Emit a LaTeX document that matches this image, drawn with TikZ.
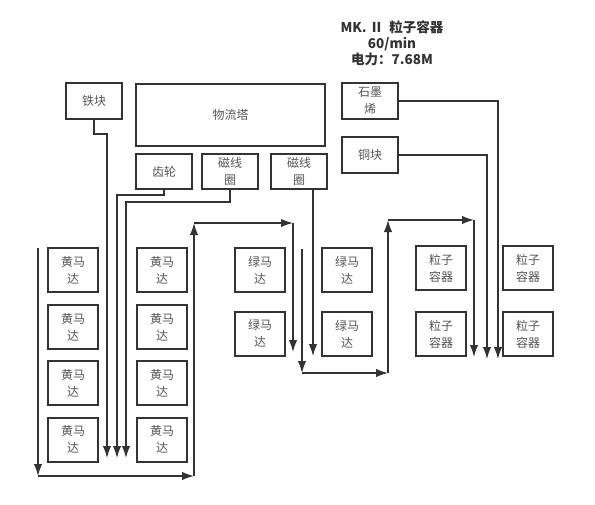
\documentclass[tikz,border=0pt]{standalone}
\usepackage{fontspec}
\newfontfamily\cjk{Noto Sans CJK SC}
\usetikzlibrary{arrows.meta}
\definecolor{boxc}{HTML}{333333}
\definecolor{txtc}{HTML}{555555}
\definecolor{linec}{HTML}{333333}
\tikzset{
  box/.style={draw=boxc, line width=2pt, inner sep=0pt, minimum width=50pt, minimum height=44pt,
    align=center, text=txtc, font=\cjk\fontsize{12}{17}\selectfont},
  feed/.style={draw=linec, line width=1.4pt, -{Latex[length=12pt,width=8.5pt]}},
  titletext/.style={align=center, text=linec, font=\cjk\bfseries\fontsize{13.5}{16}\selectfont}
}
\begin{document}
\begin{tikzpicture}[x=1pt,y=-1pt]
\useasboundingbox[fill=white] (0,0) rectangle (595,504);
% title
\node[titletext] (title) at (392,43) {MK. Ⅱ\ \ 粒子容器\\60/min\\电力：7.68M};
% top boxes
\node[box, minimum width=56pt, minimum height=36pt] (tie) at (94,101) {铁块};
\node[box, minimum width=189pt, minimum height=62pt] (tower) at (230.5,115) {物流塔};
\node[box, minimum width=56pt, minimum height=35pt] (gear) at (164,171.5) {齿轮};
\node[box, minimum width=56pt, minimum height=35pt] (coilA) at (230,171.5) {磁线\\圈};
\node[box, minimum width=56pt, minimum height=35pt] (coilB) at (299,171.5) {磁线\\圈};
\node[box, minimum width=56pt, minimum height=36pt] (graph) at (370,101) {石墨\\烯};
\node[box, minimum width=56pt, minimum height=36pt] (copper) at (370,155) {铜块};
% yellow motors
\foreach \i/\y in {1/270,2/327,3/383,4/439.5}{
  \node[box] (ya\i) at (73,\y) {黄马\\达};
  \node[box] (yb\i) at (162,\y) {黄马\\达};
}
% green motors
\node[box] (ga1) at (260,270) {绿马\\达};
\node[box] (ga2) at (260,333.5) {绿马\\达};
\node[box] (gb1) at (347,270) {绿马\\达};
\node[box] (gb2) at (347,334) {绿马\\达};
% particle containers
\node[box] (pa1) at (441,268) {粒子\\容器};
\node[box] (pa2) at (441,334) {粒子\\容器};
\node[box] (pb1) at (528,268) {粒子\\容器};
\node[box] (pb2) at (528,334) {粒子\\容器};
% supply lines
\coordinate (tieEnd) at (107,458);
\coordinate (gearEnd) at (117,458);
\coordinate (coilAEnd) at (126,458);
\draw[feed] (tie.south) |- (107,134) -- (tieEnd);
\draw[feed] (gear.south) |- (117,195) -- (gearEnd);
\draw[feed] (coilA.south) |- (126,202) -- (coilAEnd);
\coordinate (coilBEnd) at (313,356);
\draw[feed] (coilB.south -| coilBEnd) -- (coilBEnd);
\coordinate (graphEnd) at (498,359);
\coordinate (copperEnd) at (487,359);
\draw[feed] (graph.east) -| (graphEnd);
\draw[feed] (copper.east) -| (copperEnd);
% product flow 1
\coordinate (a1) at (38,248);
\coordinate (a2) at (38,476);
\coordinate (a3) at (194,476);
\coordinate (a4) at (194,223);
\coordinate (a5) at (293,223);
\coordinate (a6) at (293,352);
\draw[feed] (a1) -- (a2);
\draw[feed] (a2) -- (a3);
\draw[feed] (a3) -- (a4);
\draw[feed] (a4) -- (a5);
\draw[feed] (a5) -- (a6);
% product flow 2
\coordinate (b1) at (302,249);
\coordinate (b2) at (302,373);
\coordinate (b3) at (388,373);
\coordinate (b4) at (388,220);
\coordinate (b5) at (474,220);
\coordinate (b6) at (474,357);
\draw[feed] (b1) -- (b2);
\draw[feed] (b2) -- (b3);
\draw[feed] (b3) -- (b4);
\draw[feed] (b4) -- (b5);
\draw[feed] (b5) -- (b6);
\end{tikzpicture}
\end{document}
